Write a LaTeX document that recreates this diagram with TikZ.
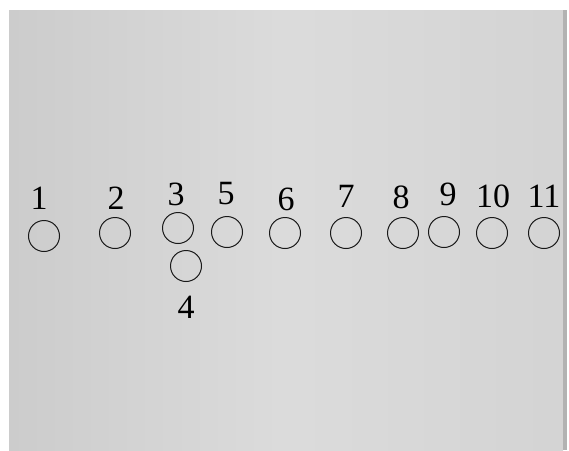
\documentclass[tikz,border=0pt]{standalone}
\usepackage{fontspec}
\setmainfont{Liberation Serif}
\begin{document}
\begin{tikzpicture}[x=1pt,y=-1pt,
  seat/.style={circle,draw=black!90,line width=1pt,minimum size=31pt,inner sep=0pt},
  num/.style={anchor=base,inner sep=0pt,font=\fontsize{34}{40}\selectfont,text=black}]
\useasboundingbox (0,0) rectangle (569,450);
\fill[white] (0,0) rectangle (569,450);
\shade[left color=black!20,right color=black!14] (9,10) rectangle (286,450);
\shade[left color=black!14,right color=black!17] (286,10) rectangle (563,450);
\fill[black!30] (563,10) rectangle (567,450);
% seats
\node[seat] (c1) at (44,236) {};
\node[seat] (c2) at (115,233) {};
\node[seat] (c3) at (178,228) {};
\node[seat] (c4) at (186,266) {};
\node[seat] (c5) at (227,232) {};
\node[seat] (c6) at (285,233) {};
\node[seat] (c7) at (346,233) {};
\node[seat] (c8) at (403,233) {};
\node[seat] (c9) at (444,232) {};
\node[seat] (c10) at (492,233) {};
\node[seat] (c11) at (544,233) {};
% labels
\node[num] (l1) at (39,209) {1};
\node[num] (l2) at (116,209) {2};
\node[num] (l3) at (176,205) {3};
\node[num] (l4) at (186,318) {4};
\node[num] (l5) at (226,204) {5};
\node[num] (l6) at (286,210) {6};
\node[num] (l7) at (346,207) {7};
\node[num] (l8) at (401,208) {8};
\node[num] (l9) at (448,205) {9};
\node[num] (l10) at (493,207) {10};
\node[num] (l11) at (544,207) {11};
\end{tikzpicture}
\end{document}
